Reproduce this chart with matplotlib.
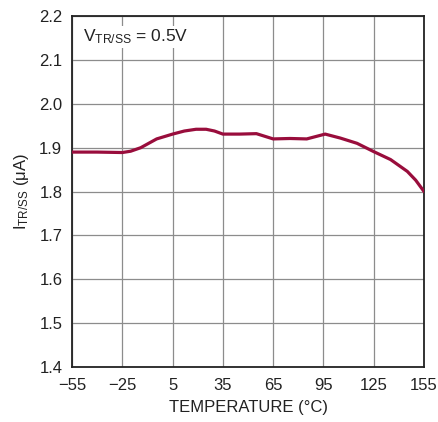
import matplotlib
matplotlib.use("Agg")
import matplotlib.pyplot as plt

# Data
temperature = [-55, -40, -25, -20, -14, -4.5, 5, 12, 19, 25, 30, 35, 45, 55, 65, 75, 85, 91, 96, 105, 115, 125, 135, 145, 150, 155]
current_uA = [1.890, 1.890, 1.889, 1.892, 1.900, 1.920, 1.931, 1.938, 1.942, 1.942, 1.938, 1.931, 1.931, 1.932, 1.920, 1.921, 1.920, 1.926, 1.931, 1.922, 1.910, 1.891, 1.873, 1.846, 1.826, 1.800]

x_ticks = [-55, -25, 5, 35, 65, 95, 125, 155]
x_ticklabels = ["\u221255", "\u221225", "5", "35", "65", "95", "125", "155"]
y_ticks = [1.4, 1.5, 1.6, 1.7, 1.8, 1.9, 2.0, 2.1, 2.2]

font = "Liberation Sans"
plt.rcParams['font.family'] = [font, 'DejaVu Sans']
plt.rcParams['mathtext.fontset'] = 'custom'
plt.rcParams['mathtext.rm'] = font
plt.rcParams['mathtext.it'] = font

fig = plt.figure(figsize=(4.39, 4.22), dpi=100)
ax = fig.add_axes([0.164, 0.130, 0.802, 0.832])

ax.plot(temperature, current_uA, color='#990D3C', lw=2.3, solid_capstyle='round', zorder=3)

ax.set_xlim(-55, 155)
ax.set_ylim(1.4, 2.2)
ax.set_xticks(x_ticks)
ax.set_xticklabels(x_ticklabels)
ax.set_yticks(y_ticks)
ax.set_yticklabels([f"{v:.1f}" for v in y_ticks])
ax.grid(True, color='#8c8c8c', lw=0.9)
ax.tick_params(axis='x', length=0, labelsize=12, colors='#222222', pad=8)
ax.tick_params(axis='y', length=0, labelsize=12, colors='#222222', pad=7)
for s in ax.spines.values():
    s.set_linewidth(1.3)
    s.set_color('#222222')

ax.set_xlabel("TEMPERATURE (\u00b0C)", fontsize=12, color='#222222', labelpad=5)
ax.set_ylabel(r"I$_{\mathrm{TR/SS}}$ ($\mathrm{\mu}$A)", fontsize=12, color='#222222', labelpad=6)

ax.text(0.03, 0.94, r"V$_{\mathrm{TR/SS}}$ = 0.5V", transform=ax.transAxes,
        fontsize=12.5, color='#222222', va='center', ha='left',
        bbox=dict(facecolor='white', edgecolor='none', pad=1))

fig.savefig("out.png", dpi=100)
